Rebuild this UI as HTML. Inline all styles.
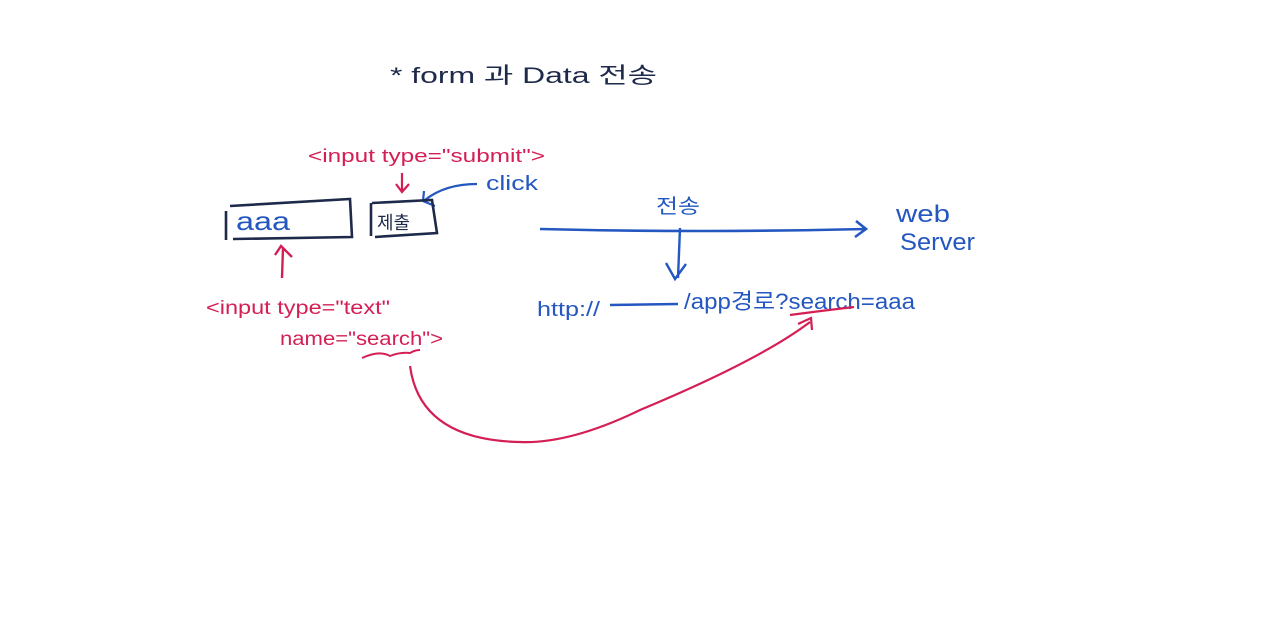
<!DOCTYPE html>
<html><head><meta charset="utf-8"><style>
html,body{margin:0;padding:0;background:#fff;}
svg{display:block}
text{font-family:"Liberation Sans","Noto Sans CJK KR",sans-serif;}
</style></head><body>
<svg width="1280" height="635" viewBox="0 0 1280 635" xmlns="http://www.w3.org/2000/svg">
<rect width="1280" height="635" fill="#fff"/>
<text x="390" y="83" font-size="22" fill="#1e2a4a" textLength="267" lengthAdjust="spacingAndGlyphs">* form 과 Data 전송</text>
<text x="308" y="162" font-size="18" fill="#d41f55" textLength="237" lengthAdjust="spacingAndGlyphs">&lt;input type="submit"&gt;</text>
<path d="M402 173 L402 191 M396 184 L402 192 L409 184" stroke="#d41f55" stroke-width="2.2" fill="none"/>
<text x="486" y="190" font-size="20" fill="#2457c0" textLength="52" lengthAdjust="spacingAndGlyphs">click</text>
<path d="M477 184 Q445 184 425 200 M424 191 L423 201 L435 206" stroke="#2457c0" stroke-width="2.2" fill="none"/>
<path d="M226 211 L226 240 M230 206 L350 199 L352 237 L233 239" stroke="#1e2a4a" stroke-width="2.6" fill="none"/>
<text x="236" y="230" font-size="26" fill="#2457c0" textLength="54" lengthAdjust="spacingAndGlyphs">aaa</text>
<path d="M371 203 L371 236 M372 203 L432 200 L437 233 L375 237" stroke="#1e2a4a" stroke-width="2.6" fill="none"/>
<text x="377" y="229" font-size="18" fill="#1e2a4a">제출</text>
<path d="M282 278 L283 248 M275 255 L281 246 L292 257" stroke="#d41f55" stroke-width="2.4" fill="none"/>
<text x="206" y="314" font-size="19" fill="#d41f55" textLength="184" lengthAdjust="spacingAndGlyphs">&lt;input type="text"</text>
<text x="280" y="345" font-size="19" fill="#d41f55" textLength="163" lengthAdjust="spacingAndGlyphs">name="search"&gt;</text>
<path d="M362 358 Q380 350 390 356 Q400 352 410 353 Q415 350 420 350" stroke="#d41f55" stroke-width="2" fill="none"/>
<path d="M410 366 Q420 440 520 442 Q570 444 640 410 Q760 360 810 322 M798 324 L811 318 L812 330" stroke="#d41f55" stroke-width="2.2" fill="none"/>
<path d="M540 229 Q700 233 866 229 M856 221 L866 229 L855 237" stroke="#2457c0" stroke-width="2.6" fill="none"/>
<text x="656" y="213" font-size="20" fill="#2457c0" textLength="44" lengthAdjust="spacingAndGlyphs">전송</text>
<path d="M680 228 L678 278 M666 263 L675 279 L686 264" stroke="#2457c0" stroke-width="2.4" fill="none"/>
<text x="896" y="222" font-size="24" fill="#2457c0" textLength="54" lengthAdjust="spacingAndGlyphs">web</text>
<text x="900" y="250" font-size="24" fill="#2457c0" textLength="75" lengthAdjust="spacingAndGlyphs">Server</text>
<text x="537" y="316" font-size="20" fill="#2457c0" textLength="63" lengthAdjust="spacingAndGlyphs">http://</text>
<path d="M610 305 L678 304" stroke="#2457c0" stroke-width="2.4"/>
<text x="684" y="309" font-size="22" fill="#2457c0" textLength="231" lengthAdjust="spacingAndGlyphs">/app경로?search=aaa</text>
<path d="M790 315 Q820 311 854 307" stroke="#d41f55" stroke-width="2.2" fill="none"/>
</svg>
</body></html>
